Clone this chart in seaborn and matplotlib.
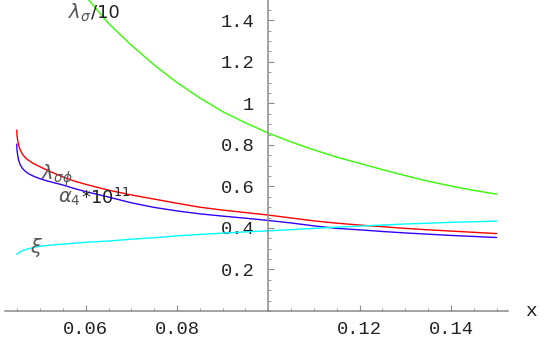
import numpy as np
import pandas as pd
import matplotlib
matplotlib.use("Agg")
import matplotlib.pyplot as plt
import seaborn as sns
from matplotlib.ticker import MultipleLocator, FixedLocator

# --- datos ---
x_verde = [0.060, 0.065, 0.070, 0.075, 0.080, 0.085, 0.090, 0.095, 0.100, 0.105,
           0.110, 0.115, 0.120, 0.125, 0.130, 0.135, 0.140, 0.145, 0.150]
y_verde = [1.515, 1.385, 1.280, 1.185, 1.100, 1.026, 0.960, 0.906, 0.857, 0.814,
           0.776, 0.741, 0.711, 0.681, 0.652, 0.625, 0.602, 0.581, 0.563]

x_rojo = [0.0449, 0.04495, 0.0451, 0.0453, 0.0456, 0.0461, 0.0467, 0.0475, 0.0485,
          0.0495, 0.051, 0.0525, 0.055, 0.0575, 0.060, 0.065,
          0.070, 0.075, 0.080, 0.085, 0.090, 0.095, 0.100, 0.105, 0.110, 0.115,
          0.120, 0.125, 0.130, 0.135, 0.140, 0.145, 0.150]
y_rojo = [0.871, 0.845, 0.823, 0.800, 0.778, 0.757, 0.740, 0.725, 0.711,
          0.700, 0.684, 0.669, 0.646, 0.626, 0.610, 0.582,
          0.559, 0.539, 0.519, 0.500, 0.486, 0.474, 0.462, 0.448, 0.434, 0.423,
          0.414, 0.406, 0.398, 0.391, 0.385, 0.379, 0.373]

x_azul = [0.0449, 0.04495, 0.0451, 0.0453, 0.0456, 0.0461, 0.0467, 0.0475, 0.0485,
          0.0495, 0.051, 0.0525, 0.055, 0.0575, 0.060, 0.065,
          0.070, 0.075, 0.080, 0.085, 0.090, 0.095, 0.100, 0.105, 0.110, 0.115,
          0.120, 0.125, 0.130, 0.135, 0.140, 0.145, 0.150]
y_azul = [0.804, 0.775, 0.750, 0.727, 0.707, 0.688, 0.674, 0.661, 0.650,
          0.641, 0.630, 0.621, 0.607, 0.590, 0.575, 0.549,
          0.521, 0.499, 0.482, 0.468, 0.457, 0.447, 0.436, 0.424, 0.410, 0.398,
          0.391, 0.383, 0.376, 0.370, 0.364, 0.359, 0.354]

x_cian = [0.0449, 0.0455, 0.0462, 0.0471, 0.0485, 0.050, 0.0525, 0.055, 0.060, 0.065,
          0.070, 0.075, 0.080, 0.085, 0.090, 0.095, 0.100, 0.105, 0.110, 0.115,
          0.120, 0.125, 0.130, 0.135, 0.140, 0.145, 0.150]
y_cian = [0.272, 0.283, 0.291, 0.298, 0.306, 0.312, 0.318, 0.322, 0.331, 0.337,
          0.346, 0.353, 0.362, 0.369, 0.375, 0.381, 0.386, 0.392, 0.398, 0.404,
          0.409, 0.414, 0.419, 0.423, 0.427, 0.430, 0.433]

etiquetas_x = ["0.06", "0.08", "0.12", "0.14"]
ticks_x = [0.06, 0.08, 0.12, 0.14]
etiquetas_y = ["0.2", "0.4", "0.6", "0.8", "1", "1.2", "1.4"]
ticks_y = [0.2, 0.4, 0.6, 0.8, 1.0, 1.2, 1.4]

colores = {"verde": (0.2, 1.0, 0.0), "rojo": (1.0, 0.0, 0.0),
           "azul": (0.2, 0.0, 1.0), "cian": (0.0, 1.0, 1.0)}

sns.set_theme(style="white")
plt.rcParams['font.family'] = ['DejaVu Sans']

fig = plt.figure(figsize=(5.45, 3.37), dpi=100)
ax = fig.add_axes([5 / 545, 26 / 337, 503 / 545, 311 / 337])

series = [(x_verde, y_verde, "verde"), (x_rojo, y_rojo, "rojo"),
          (x_azul, y_azul, "azul"), (x_cian, y_cian, "cian")]
for xs, ys, nombre in series:
    df = pd.DataFrame({"x": xs, "y": ys})
    sns.lineplot(data=df, x="x", y="y", ax=ax, color=colores[nombre],
                 linewidth=1.0, estimator=None, sort=False)

ax.set_xlim(0.04232, 0.15251)
ax.set_ylim(0, 1.498)
ax.set_xlabel("")
ax.set_ylabel("")

# ejes tipo Mathematica cruzando en (0.1, 0)
for lado in ["top", "right"]:
    ax.spines[lado].set_visible(False)
ax.spines["left"].set_position(("data", 0.1))
ax.spines["bottom"].set_position(("data", 0))
for lado in ["left", "bottom"]:
    ax.spines[lado].set_color("#8a8a8a")
    ax.spines[lado].set_linewidth(1.1)

ax.xaxis.set_major_locator(FixedLocator(ticks_x))
ax.set_xticklabels(etiquetas_x)
ax.xaxis.set_minor_locator(MultipleLocator(0.005))
ax.yaxis.set_major_locator(FixedLocator(ticks_y))
ax.set_yticklabels(etiquetas_y)
ax.yaxis.set_minor_locator(MultipleLocator(0.05))

ax.tick_params(which="major", direction="in", length=4, width=0.8, color="#8a8a8a",
               labelsize=13.5, labelcolor="#222222", left=True, bottom=True)
ax.tick_params(which="minor", direction="in", length=2.2, width=0.6, color="#8a8a8a",
               left=True, bottom=True)
ax.tick_params(axis="x", which="major", pad=7)
ax.tick_params(axis="y", which="major", pad=10)
for lbl in ax.get_xticklabels() + ax.get_yticklabels():
    lbl.set_family("Liberation Mono")

ax.text(0.1575, 0.0, "x", fontsize=14, family="Liberation Mono", color="#222222",
        ha="center", va="center", clip_on=False)

# etiquetas de las curvas
gris = "#555555"
ax.text(0.0612, 1.435, r"$\lambda_\sigma$", color=gris, fontsize=14, ha="right", va="center")
ax.text(0.0612, 1.440, "/10", color="#222222", fontsize=13, ha="left", va="center")
ax.text(0.0537, 0.652, r"$\lambda_{\sigma\phi}$", color=gris, fontsize=14, ha="center", va="center")
ax.text(0.0588, 0.540, r"$\alpha_4$", color=gris, fontsize=14, ha="right", va="center")
ax.text(0.0590, 0.545, r"$*10^{11}$", color="#222222", fontsize=13, ha="left", va="center")
ax.text(0.0493, 0.305, r"$\xi$", color=gris, fontsize=14, ha="center", va="center")

fig.savefig("out.png", dpi=100)
